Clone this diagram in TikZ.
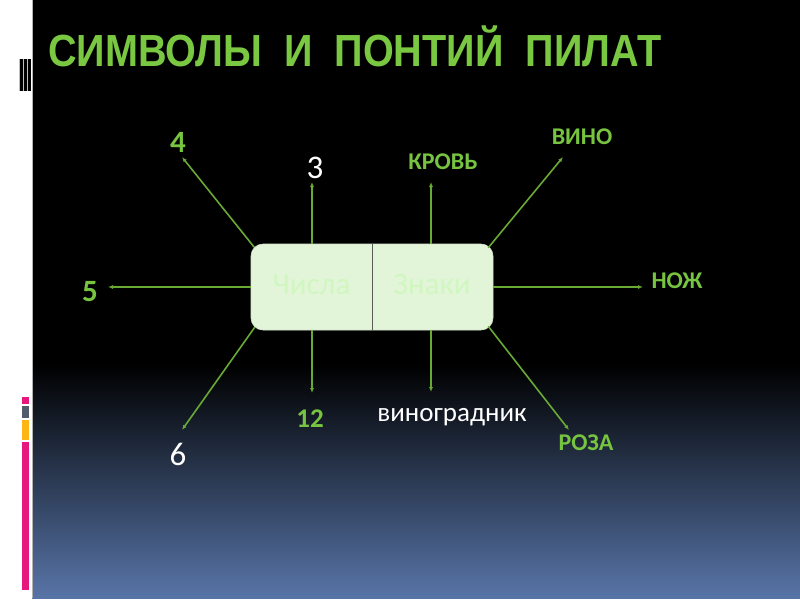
\documentclass[tikz,border=0pt]{standalone}
\usepackage{fontspec}
\setmainfont{Carlito}
\newfontfamily\titlefont{Liberation Sans}[FakeStretch=0.88]
\usetikzlibrary{arrows.meta,calc}
\definecolor{titlegreen}{RGB}{122,200,66}
\definecolor{labelgreen}{RGB}{118,196,64}
\definecolor{linegreen}{RGB}{104,170,52}
\definecolor{boxfill}{RGB}{227,245,217}
\definecolor{boxtext}{RGB}{208,247,192}
\definecolor{bluemid}{RGB}{30,39,60}
\definecolor{bluebot}{RGB}{88,117,168}
\definecolor{barpink}{RGB}{230,24,126}
\definecolor{bargrey}{RGB}{82,92,108}
\definecolor{barorange}{RGB}{253,182,20}

\begin{document}
\begin{tikzpicture}[
  x=1pt, y=-1pt,
  >={Latex[length=5pt,width=4pt]},
  flow/.style={->, draw=linegreen, line width=1.6pt},
  greenlbl/.style={inner sep=0pt, text=labelgreen, font=\bfseries\fontsize{24}{24}\selectfont},
  greennum/.style={inner sep=0pt, text=labelgreen, font=\bfseries\fontsize{31}{31}\selectfont},
  whitelbl/.style={inner sep=0pt, text=white, font=\fontsize{33}{33}\selectfont},
  boxlbl/.style={inner sep=0pt, text=boxtext, font=\fontsize{31}{31}\selectfont}
]
  \useasboundingbox (0,0) rectangle (800,600);

  % slide background
  \fill[white] (0,0) rectangle (800,600);
  \fill[black] (32,0) rectangle (800,598);
  \shade[top color=black, middle color=bluemid, bottom color=bluebot] (32,365) rectangle (800,598);
  \draw[gray!60, line width=1pt] (32.5,0) -- (32.5,598);
  \fill[gray!50] (18.5,59) rectangle (31,91);
  \foreach \x in {20,24,28}
    \fill[black] (\x,59) rectangle (\x+2.6,91);
  \foreach \ya/\yb/\c in {397/404/barpink, 406/418/bargrey, 420/440/barorange, 442/590/barpink}
    \fill[\c] (22,\ya) rectangle (29,\yb);

  \node[anchor=base west, inner sep=0pt, text=titlegreen,
        font=\titlefont\bfseries\fontsize{45}{45}\selectfont] (title) at (48,66)
        {СИМВОЛЫ\ \ И\ \ ПОНТИЙ\ \ ПИЛАТ};

  % central box
  \node[draw=boxfill!85!gray, line width=0.6pt, fill=boxfill, rounded corners=12pt,
        minimum width=242pt, minimum height=86pt] (box) at (372,287) {};
  \draw[gray!70!black, line width=1pt] (box.north) -- (box.south);
  \node[boxlbl] (nums) at (311.5,285) {Числа};
  \node[boxlbl] (signs) at (432,285) {Знаки};

  % labels
  \node[greennum] (four) at (178,142) {4};
  \node[whitelbl] (three) at (315,168) {3};
  \node[greennum] (five) at (90,292) {5};
  \node[greenlbl] (blood) at (443,162) {КРОВЬ};
  \node[greenlbl] (wine) at (582,137) {ВИНО};
  \node[greenlbl] (knife) at (677,281) {НОЖ};
  \node[whitelbl] (six) at (178,454) {6};
  \node[greenlbl, font=\bfseries\fontsize{27}{27}\selectfont] (twelve) at (310,419) {12};
  \node[inner sep=0pt, text=white, font=\fontsize{27}{27}\selectfont] (vineyard) at (452,417) {виноградник};
  \node[greenlbl] (rose) at (586,443) {РОЗА};

  \coordinate (tip4) at (182,157);
  \coordinate (tip3) at (312,182);
  \coordinate (tip5) at (108,287);
  \coordinate (tipblood) at (431,182);
  \coordinate (tipwine) at (563,157);
  \coordinate (tipknife) at (643,287);
  \coordinate (tip6) at (182,430);
  \coordinate (tip12) at (312,393);
  \coordinate (tipvine) at (431,392);
  \coordinate (tiprose) at (569,430);

  % arrows
  \draw[flow] ($(box.north west)+(3.5,3.5)$) -- (tip4);
  \draw[flow] (box.north -| tip3) -- (tip3);
  \draw[flow] (box.west) -- (tip5);
  \draw[flow] (box.north -| tipblood) -- (tipblood);
  \draw[flow] ($(box.north east)+(-5,4)$) -- (tipwine);
  \draw[flow] (box.east) -- (tipknife);
  \draw[flow] ($(box.south west)+(4,-3)$) -- (tip6);
  \draw[flow] (box.south -| tip12) -- (tip12);
  \draw[flow] (box.south -| tipvine) -- (tipvine);
  \draw[flow] ($(box.south east)+(-5,-4)$) -- (tiprose);
\end{tikzpicture}
\end{document}
